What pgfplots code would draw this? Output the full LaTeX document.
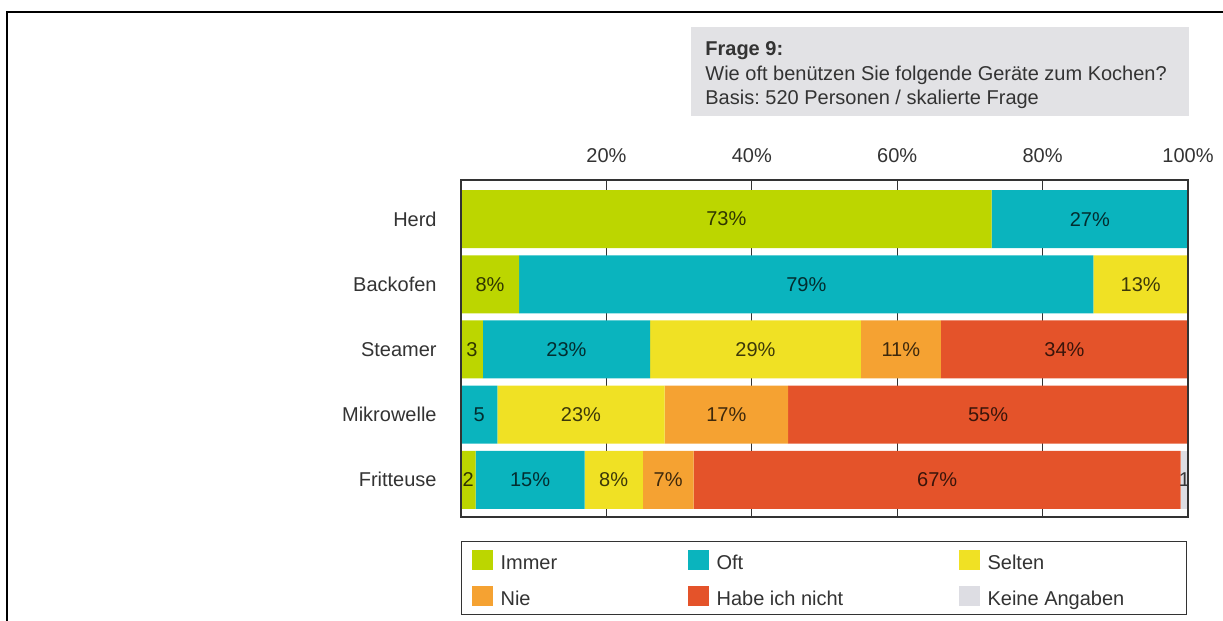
\documentclass[border=0pt]{standalone}
\usepackage{pgfplots}
\pgfplotsset{compat=1.18}
\usepackage{fontspec}
\setmainfont{Liberation Sans}

\definecolor{cImmer}{HTML}{BCD600}
\definecolor{cOft}{HTML}{0AB4BE}
\definecolor{cSelten}{HTML}{F0E124}
\definecolor{cNie}{HTML}{F5A232}
\definecolor{cHabe}{HTML}{E4532A}
\definecolor{cKeine}{HTML}{DDDDE3}
\definecolor{titlebg}{HTML}{E2E2E5}
\definecolor{txt}{HTML}{333333}
\definecolor{axgray}{HTML}{333333}

\pgfplotsset{
  layers/mylayers/.define layer set={axis background,axis grid,main,axis ticks,axis lines,axis tick labels,axis descriptions,axis foreground}{/pgfplots/layers/standard},
  sq/.style={legend image code/.code={\fill[##1] (0pt,-0.2pt) rectangle (10.5pt,9.8pt);}},
}

\begin{document}
\frenchspacing
\fontsize{10}{12}\selectfont
\begin{tikzpicture}
% frame (top and left edge only)
\draw[line width=1.1pt] (3.3pt,0pt) -- (3.3pt,304.5pt) -- (612pt,304.5pt);
% question box
\fill[titlebg] (345.5pt,252.5pt) rectangle (594.5pt,297pt);
\node[anchor=base west, inner sep=0, text=txt] at (352.5pt,282.5pt) {\bfseries Frage 9:};
\node[anchor=base west, inner sep=0, text=txt] at (352.5pt,270.2pt) {Wie oft benützen Sie folgende Geräte zum Kochen?};
\node[anchor=base west, inner sep=0, text=txt] at (352.5pt,258pt) {Basis: 520 Personen / skalierte Frage};

\begin{axis}[
    set layers=mylayers,
    at={(230.5pt,52pt)}, anchor=south west,
    scale only axis, width=363.5pt, height=168.5pt,
    xbar stacked, bar width=29pt,
    xmin=0, xmax=100, ymin=-0.6, ymax=4.57, y dir=reverse,
    xtick={20,40,60,80,100},
    xticklabels={20\%,40\%,60\%,80\%,100\%},
    xticklabel pos=upper,
    xticklabel style={anchor=base, yshift=8.5pt, inner sep=0pt, text=txt},
    ytick={0,1,2,3,4},
    yticklabels={Herd,Backofen,Steamer,Mikrowelle,Fritteuse},
    yticklabel style={anchor=east, inner sep=0pt, xshift=-12pt, text=txt},
    major tick length=0pt, tick style={draw=none},
    xmajorgrids, major grid style={draw=axgray, line width=0.5pt},
    axis line style={draw=axgray, line width=0.7pt},
    nodes near coords, point meta=explicit symbolic,
    every node near coord/.append style={anchor=center, inner sep=0pt,
        text=black, text opacity=0.75},
    legend columns=3, legend cell align=left,
    legend style={at={(0,-0.0712)}, anchor=north west, draw=axgray, line width=0.6pt,
        inner xsep=5pt, inner ysep=4.2pt, row sep=8pt, column sep=0pt,
        cells={anchor=base west},
        nodes={inner sep=0pt, text depth=0pt, text=txt},
        /tikz/every odd column/.append style={column sep=4pt}},
]
\addplot[fill=cImmer, draw=none, sq] coordinates {(73,0) [73\%] (8,1) [8\%] (3,2) [3] (0,3) [] (2,4) [2]};
\addplot[fill=cOft, draw=none, sq] coordinates {(27,0) [27\%] (79,1) [79\%] (23,2) [23\%] (5,3) [5] (15,4) [15\%]};
\addplot[fill=cSelten, draw=none, sq] coordinates {(0,0) [] (13,1) [13\%] (29,2) [29\%] (23,3) [23\%] (8,4) [8\%]};
\addplot[fill=cNie, draw=none, sq] coordinates {(0,0) [] (0,1) [] (11,2) [11\%] (17,3) [17\%] (7,4) [7\%]};
\addplot[fill=cHabe, draw=none, sq] coordinates {(0,0) [] (0,1) [] (34,2) [34\%] (55,3) [55\%] (67,4) [67\%]};
\addplot[fill=cKeine, draw=none, sq] coordinates {(0,0) [] (0,1) [] (0,2) [] (0,3) [] (1,4) [1]};
\legend{\makebox[93.5pt][l]{Immer}, \makebox[121pt][l]{Oft}, \makebox[94.5pt][l]{Selten},
        \makebox[93.5pt][l]{Nie}, \makebox[121pt][l]{Habe ich nicht}, \makebox[94.5pt][l]{Keine Angaben}}
\end{axis}
\pgfresetboundingbox
\path[use as bounding box] (0pt,0pt) rectangle (611.5pt,310.5pt);
\end{tikzpicture}
\end{document}
